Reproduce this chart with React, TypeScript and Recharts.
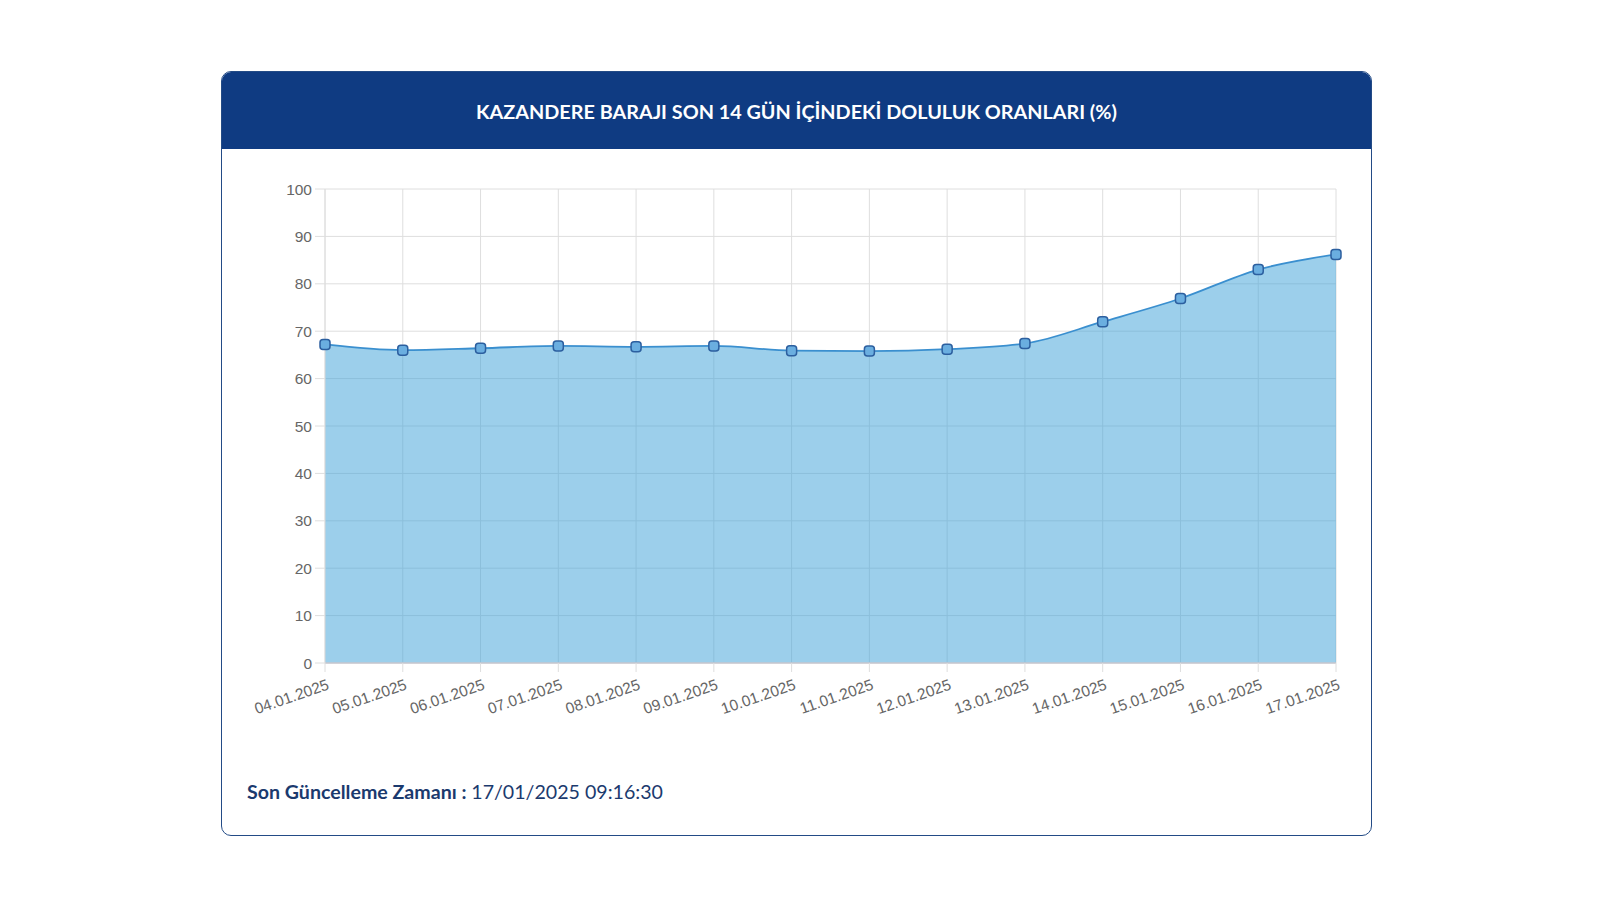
import React from 'react';
import { AreaChart, Area, XAxis, YAxis, CartesianGrid } from 'recharts';

const dates = ['04.01.2025','05.01.2025','06.01.2025','07.01.2025','08.01.2025','09.01.2025','10.01.2025','11.01.2025','12.01.2025','13.01.2025','14.01.2025','15.01.2025','16.01.2025','17.01.2025'];
const fillRates = [67.2, 66.0, 66.4, 66.9, 66.7, 66.9, 65.9, 65.8, 66.2, 67.4, 72.0, 76.9, 83.0, 86.2];
const yTicks = [0, 10, 20, 30, 40, 50, 60, 70, 80, 90, 100];

const data = dates.map((d, i) => ({ date: d, value: fillRates[i] }));

const TITLE = 'KAZANDERE BARAJI SON 14 GÜN İÇİNDEKİ DOLULUK ORANLARI (%)';

const XTick = (props: any) => {
  const { x, y, payload } = props;
  return (
    <g transform={`translate(${x + 5},${y + 15}) rotate(-19)`}>
      <text x={0} y={0} textAnchor="end" fill="#666" fontSize={15.5} fontFamily="'Liberation Sans', Arial, sans-serif">
        {payload.value}
      </text>
    </g>
  );
};

const Dot = (props: any) => {
  const { cx, cy } = props;
  if (cx == null || cy == null) return null;
  return <rect x={cx - 5} y={cy - 5} width={10} height={10} rx={3} fill="#6aaee0" stroke="#2c5f9f" strokeWidth={1.5} />;
};

export default function App() {
  return (
    <div style={{ position: 'absolute', left: 0, top: 0, width: 1600, height: 900, background: '#fff' }}>
      <div style={{ position: 'absolute', left: 221, top: 71, width: 1149, height: 763, border: '1.5px solid #234b86', borderRadius: 10, overflow: 'hidden', background: '#fff' }}>
        <div style={{ height: 77, background: '#0f3b82', color: '#fff', display: 'flex', alignItems: 'center', justifyContent: 'center', fontFamily: 'Lato, sans-serif', fontWeight: 700, fontSize: 19.8 }}>
          {TITLE}
        </div>
      </div>
      <div style={{ position: 'absolute', left: 240, top: 170 }}>
        <AreaChart width={1120} height={560} data={data} margin={{ top: 19, right: 24, bottom: 0, left: 0 }}>
          <CartesianGrid stroke="#dedede" strokeWidth={1} />
          <XAxis dataKey="date" height={67} interval={0} tick={<XTick />} tickSize={9} tickLine={{ stroke: '#dedede' }} axisLine={{ stroke: '#c8c8d0', strokeWidth: 1.5 }} />
          <YAxis domain={[0, 100]} ticks={yTicks} width={85} tickSize={10} tickMargin={3} tickLine={{ stroke: '#dedede' }} axisLine={{ stroke: '#dedede' }} tick={{ fill: '#666', fontSize: 15.5, fontFamily: "'Liberation Sans', Arial, sans-serif" }} interval={0} />
          <Area type="monotone" dataKey="value" stroke="#3a8fcf" strokeWidth={1.8} fill="rgb(58,160,216)" fillOpacity={0.5} dot={<Dot />} activeDot={false} isAnimationActive={false} />
        </AreaChart>
      </div>
      <div style={{ position: 'absolute', left: 247, top: 780, fontFamily: 'Lato, sans-serif', fontSize: 19.6, color: '#1b3a6e' }}>
        <span style={{ fontWeight: 700 }}>Son Güncelleme Zamanı : </span>
        <span>17/01/2025 09:16:30</span>
      </div>
    </div>
  );
}
